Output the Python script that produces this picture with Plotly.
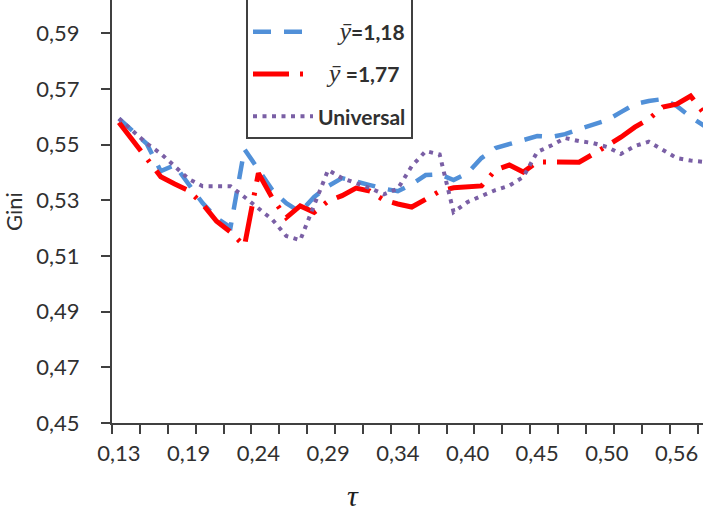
import plotly.graph_objects as go

# Gini coefficient as a function of tau for three income models
tau_labels = [0.13, 0.19, 0.24, 0.29, 0.34, 0.40, 0.45, 0.50, 0.56]
label_step = 5      # one tau label every 5 categories
tick_step = 2       # one tick mark every 2 categories

gini_y118 = [0.5594, 0.5550, 0.5503, 0.5405, 0.5427, 0.5358, 0.5290, 0.5236, 0.5203, 0.5484,
             0.5409, 0.5337, 0.5290, 0.5258, 0.5312, 0.5351, 0.5380, 0.5369, 0.5355, 0.5342,
             0.5333, 0.5358, 0.5391, 0.5394, 0.5373, 0.5398, 0.5452, 0.5488, 0.5502, 0.5517,
             0.5531, 0.5528, 0.5538, 0.5556, 0.5570, 0.5588, 0.5617, 0.5646, 0.5657, 0.5664,
             0.5639, 0.5600, 0.5567]

gini_y177 = [0.5580, 0.5515, 0.5450, 0.5385, 0.5359, 0.5335, 0.5287, 0.5225, 0.5186, 0.5136,
             0.5398, 0.5308, 0.5238, 0.5280, 0.5257, 0.5297, 0.5317, 0.5344, 0.5333, 0.5301,
             0.5287, 0.5276, 0.5304, 0.5333, 0.5345, 0.5348, 0.5352, 0.5409, 0.5427, 0.5402,
             0.5438, 0.5438, 0.5439, 0.5437, 0.5466, 0.5495, 0.5527, 0.5563, 0.5592, 0.5635,
             0.5646, 0.5675, 0.5610]

gini_universal = [0.5594, 0.5551, 0.5504, 0.5468, 0.5420, 0.5377, 0.5351, 0.5351, 0.5351, 0.5312,
                  0.5270, 0.5231, 0.5172, 0.5157, 0.5283, 0.5409, 0.5380, 0.5362, 0.5344, 0.5322,
                  0.5342, 0.5423, 0.5477, 0.5465, 0.5258, 0.5294, 0.5315, 0.5337, 0.5353, 0.5384,
                  0.5474, 0.5497, 0.5524, 0.5513, 0.5506, 0.5492, 0.5467, 0.5495, 0.5511, 0.5481,
                  0.5452, 0.5443, 0.5438]

y_ticks = [0.45, 0.47, 0.49, 0.51, 0.53, 0.55, 0.57, 0.59]

idx = list(range(len(gini_y118)))
x_range = [-0.5, 41.89]
y_range = [0.45, 0.602]

font_main = "Lato"
text_color = "#303030"
axis_color = "#404040"
bar_y = "<span style='font-family:Liberation Serif;font-size:26px'><i>ȳ</i></span>"
nbsp = "\u00a0"

fig = go.Figure()
fig.add_trace(go.Scatter(
    x=idx, y=gini_y118, mode="lines", name=nbsp * 4 + bar_y + "<b>=1,18</b>",
    legendgroup="a", line=dict(color="#5190D8", width=4.5, dash="18px,13px")))
fig.add_trace(go.Scatter(
    x=idx, y=gini_y177, mode="lines", name=nbsp * 2 + bar_y + " <b>=1,77</b>",
    legendgroup="b", line=dict(color="#FF0000", width=5, dash="36px,11px,3px,11px")))
fig.add_trace(go.Scatter(
    x=idx, y=gini_universal, mode="lines", name="<b>Universal</b>",
    legendgroup="c", line=dict(color="#7A5FA5", width=4, dash="4px,5.5px")))

fig.update_layout(
    width=703, height=514,
    margin=dict(l=112, r=0, t=0, b=91, autoexpand=False),
    paper_bgcolor="white", plot_bgcolor="white",
    separators=", ",
    font=dict(family=font_main, size=22, color=text_color),
    showlegend=True,
    legend=dict(
        x=(246 - 112) / (703 - 112), xanchor="left",
        y=(423 - 139) / 423, yanchor="bottom",
        bordercolor=axis_color, borderwidth=2, bgcolor="white",
        font=dict(family=font_main, size=21, color=text_color),
        title=dict(text=nbsp, font=dict(size=22)),
        itemwidth=60, tracegroupgap=12,
    ),
    xaxis=dict(
        range=x_range, showgrid=False, zeroline=False,
        showline=True, linecolor=axis_color, linewidth=2,
        tickmode="array",
        tickvals=[v - 0.5 for v in range(0, len(idx), tick_step)],
        showticklabels=False, ticks="outside", ticklen=9, tickwidth=1.5,
        tickcolor=axis_color,
    ),
    xaxis2=dict(
        range=x_range, overlaying="x", side="bottom", anchor="y",
        showgrid=False, zeroline=False, showline=False,
        tickmode="array",
        tickvals=[i * label_step for i in range(len(tau_labels))],
        ticktext=[f"{t:.2f}".replace(".", ",") for t in tau_labels],
        ticks="", ticklabelstandoff=15,
        tickfont=dict(family=font_main, size=22, color=text_color),
    ),
    yaxis=dict(
        range=y_range, showgrid=False, zeroline=False,
        showline=True, linecolor=axis_color, linewidth=2,
        tickmode="array", tickvals=y_ticks, tickformat=".2f",
        ticks="outside", ticklen=9, tickwidth=1.5, tickcolor=axis_color,
        ticklabelstandoff=17,
        tickfont=dict(family=font_main, size=22, color=text_color),
        title=dict(text="Gini", standoff=8,
                   font=dict(family=font_main, size=22, color=text_color)),
    ),
)

# empty trace on the label axis so its tick labels are drawn
fig.add_trace(go.Scatter(x=[None], y=[None], xaxis="x2", showlegend=False,
                         hoverinfo="skip"))

fig.add_annotation(
    text="<i>τ</i>", xref="paper", yref="paper",
    x=(353 - 112) / (703 - 112), y=(423 - 495) / 423,
    xanchor="center", yanchor="middle", showarrow=False,
    font=dict(family="Liberation Serif", size=30, color="#202020"),
)

fig.write_html("out.html")
